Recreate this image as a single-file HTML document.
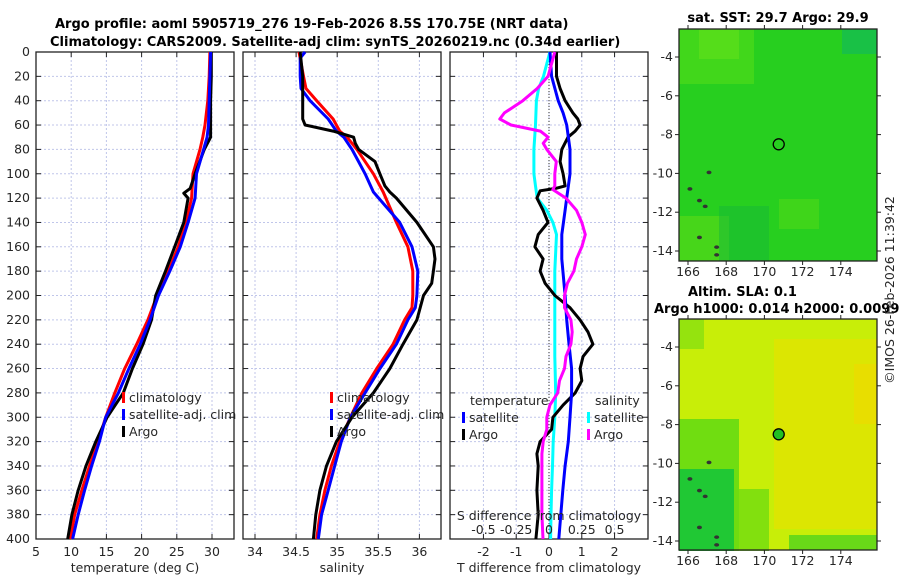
<!DOCTYPE html>
<html><head><meta charset="utf-8"><style>
body{margin:0;background:#fff;}
svg{display:block;font-family:"DejaVu Sans","Liberation Sans",sans-serif;}
.t{font-size:12.5px;fill:#262626;}
.b{font-size:13px;font-weight:bold;fill:#000;}
</style></head><body>
<svg id="fig" width="900" height="580" viewBox="0 0 900 580" xmlns="http://www.w3.org/2000/svg">
<text class="b" x="55" y="28">Argo profile: aoml 5905719_276 19-Feb-2026 8.5S 170.75E (NRT data)</text>
<text class="b" x="50" y="46">Climatology: CARS2009. Satellite-adj clim: synTS_20260219.nc (0.34d earlier)</text>
<g id="p1"></g>
<g id="p2"></g>
<g id="p3"></g>
<g id="m1"></g>
<g id="m2"></g>
<text class="b" x="778" y="22" text-anchor="middle">sat. SST: 29.7 Argo: 29.9</text>
<text class="b" x="688" y="296">Altim. SLA: 0.1</text>
<text class="b" x="654" y="313">Argo h1000: 0.014 h2000: 0.0099</text>
<text class="t" transform="translate(894,290) rotate(-90)" text-anchor="middle">©IMOS 26-Feb-2026 11:39:42</text>
</svg>
<script>
// ---- data ----
const depthTicks=[0,20,40,60,80,100,120,140,160,180,200,220,240,260,280,300,320,340,360,380,400];
const tempTicks=[5,10,15,20,25,30];
const salTicks=[34,34.5,35,35.5,36];
const salTickLabels=['34','34.5','35','35.5','36'];
const dTTicks=[-2,-1,0,1,2];
const dSTicks=[-0.5,-0.25,0,0.25,0.5];
const dSTickLabels=['-0.5','-0.25','0','0.25','0.5'];
const tDepth=[0,20,40,60,70,80,100,120,140,160,180,200,220,240,260,280,300,320,340,360,380,400];
const tClim=[29.7,29.6,29.4,29.0,28.7,28.3,27.3,27.1,26.3,25.2,23.8,22.2,20.9,19.3,17.6,16.2,14.9,13.8,12.6,11.5,10.5,9.9];
const tSat=[29.8,29.7,29.6,29.5,29.3,28.8,27.8,27.6,26.6,25.5,24.0,22.4,21.2,19.8,18.2,16.7,14.9,14.0,12.9,11.9,11.0,10.2];
const tArgoDepth=[0,20,40,60,70,80,100,112,116,120,140,160,180,200,220,240,260,280,300,320,340,360,380,400];
const tArgo=[29.9,29.9,29.8,29.8,29.8,28.9,27.6,26.9,26.0,26.6,26.0,24.7,23.4,22.0,21.4,20.2,18.7,17.4,15.1,13.5,12.1,11.0,10.1,9.5];
const sDepth=[0,20,30,40,55,65,70,80,90,100,115,140,160,180,200,210,220,240,260,280,300,320,340,360,380,400];
const sClim=[34.535,34.59,34.62,34.75,34.95,35.03,35.12,35.24,35.34,35.44,35.56,35.72,35.86,35.92,35.92,35.91,35.82,35.68,35.48,35.30,35.16,35.03,34.93,34.85,34.79,34.75];
const sSatDepth=[0,5,20,30,40,55,65,70,80,90,100,115,140,160,180,200,210,220,240,260,280,300,320,340,360,380,400];
const sSat=[34.61,34.55,34.55,34.56,34.67,34.89,34.99,35.08,35.18,35.26,35.34,35.44,35.76,35.91,35.98,35.97,35.95,35.86,35.72,35.52,35.34,35.16,35.05,34.97,34.89,34.81,34.77];
const sArgoDepth=[0,20,40,55,60,65,70,75,80,90,100,110,115,120,140,160,170,180,190,200,220,240,260,280,300,320,340,360,380,400];
const sArgo=[34.55,34.58,34.58,34.58,34.61,34.95,35.2,35.22,35.26,35.46,35.52,35.58,35.64,35.72,35.97,36.17,36.19,36.17,36.15,36.05,35.97,35.80,35.64,35.44,35.18,34.99,34.87,34.79,34.74,34.71];
const dTsatDepth=[0,20,30,40,50,60,80,100,120,130,150,170,200,220,240,260,280,300,320,340,360,380,400];
const dTsat=[0.03,0.08,0.18,0.28,0.43,0.54,0.64,0.64,0.54,0.49,0.39,0.39,0.49,0.54,0.61,0.69,0.69,0.64,0.59,0.49,0.42,0.36,0.30];
const dTargoDepth=[0,20,30,40,50,55,60,65,70,80,90,100,110,112,114,120,130,140,150,160,170,180,190,200,210,220,230,240,250,260,270,280,290,300,310,320,330,340,360,380,400];
const dTargo=[0.23,0.23,0.34,0.49,0.73,0.88,0.95,0.8,0.58,0.39,0.34,0.43,0.49,0.2,-0.27,-0.37,-0.18,-0.03,-0.33,-0.43,-0.18,-0.27,-0.12,0.18,0.64,0.95,1.19,1.34,1.04,0.95,1.0,0.8,0.43,0.12,0.08,-0.27,-0.37,-0.33,-0.37,-0.33,-0.4];
const dSsatDepth=[0,20,30,40,60,80,100,110,120,130,140,150,180,220,250,280,300,320,340,360,380,400];
const dSsat=[0.007,-0.042,-0.079,-0.096,-0.103,-0.115,-0.115,-0.103,-0.09,-0.017,0.03,0.057,0.044,0.044,0.044,0.051,0.044,0.032,0.027,0.02,0.015,0.012];
const dSargoDepth=[0,20,30,40,50,55,60,65,70,75,80,90,100,110,113,120,130,140,150,160,170,180,190,200,210,220,230,240,250,260,270,280,290,300,310,320,330,340,360,380,400];
const dSargo=[0.044,-0.007,-0.09,-0.2,-0.34,-0.375,-0.29,-0.066,-0.007,-0.044,-0.017,0.056,0.044,0.044,0.03,0.13,0.21,0.25,0.277,0.25,0.21,0.19,0.14,0.118,0.118,0.167,0.177,0.167,0.13,0.118,0.08,0.066,0.007,-0.017,-0.017,-0.044,-0.054,-0.054,-0.054,-0.054,-0.046];
const latTicks=[-4,-6,-8,-10,-12,-14];
const lonTicks=[166,168,170,172,174];
const argoLon=170.75, argoLat=-8.5;

const NS='http://www.w3.org/2000/svg';
function mk(parent,tag,attrs){const e=document.createElementNS(NS,tag);for(const k in attrs)e.setAttribute(k,attrs[k]);parent.appendChild(e);return e;}
const Y0=52,Y1=539;
const yD=d=>Y0+(Y1-Y0)*d/400;
const LW=3;

function panel(g,x0,x1,xmin,xmax){
  return v=>x0+(x1-x0)*(v-xmin)/(xmax-xmin);
}
function frame(g,x0,x1,xs,xt,xlabels,name){
  depthTicks.forEach(d=>{
    const l=mk(g,'line',{x1:x0,x2:x1,y1:yD(d),y2:yD(d),stroke:'#c0c6ea','stroke-width':1,'stroke-dasharray':'2,2'});
    
    
    mk(g,'line',{x1:x0,x2:x0+5,y1:yD(d),y2:yD(d),stroke:'#222'});
    mk(g,'line',{x1:x1-5,x2:x1,y1:yD(d),y2:yD(d),stroke:'#222'});
  });
  xt.forEach((v,i)=>{
    const l=mk(g,'line',{x1:xs(v),x2:xs(v),y1:Y0,y2:Y1,stroke:'#c0c6ea','stroke-width':1,'stroke-dasharray':'2,2'});
    
    
    mk(g,'line',{x1:xs(v),x2:xs(v),y1:Y1,y2:Y1-5,stroke:'#222'});
    mk(g,'line',{x1:xs(v),x2:xs(v),y1:Y0,y2:Y0+5,stroke:'#222'});
    if(xlabels){const t=mk(g,'text',{x:xs(v),y:556,'text-anchor':'middle',class:'t'});t.textContent=xlabels[i];
      
      }
  });
  const r=mk(g,'rect',{x:x0,y:Y0,width:x1-x0,height:Y1-Y0,fill:'none',stroke:'#222','stroke-width':1.3});
  
  
}
function line(g,xs,vals,deps,color,w,name){
  const p=vals.map((v,i)=>(i?'L':'M')+xs(v).toFixed(1)+','+yD(deps[i]).toFixed(1)).join('');
  const e=mk(g,'path',{d:p,fill:'none',stroke:color,'stroke-width':w,'stroke-linejoin':'round'});
  
  
}
function legend(g,x,y,items,name){
  items.forEach((it,i)=>{
    mk(g,'rect',{x:x,y:y+i*17-9,width:3,height:11,fill:it[1]});
    const t=mk(g,'text',{x:x+7,y:y+i*17+1,class:'t'});t.textContent=it[0];
    
    
  });
}
// panel 1
const g1=document.getElementById('p1');
const xT=panel(g1,36,234,5,5+198/7.04);
frame(g1,36,234,xT,tempTicks,tempTicks.map(String),'temperature');
depthTicks.forEach(d=>{const t=mk(g1,'text',{x:30,y:yD(d)+4,'text-anchor':'end',class:'t'});t.textContent=d;
  
  });
line(g1,xT,tClim,tDepth,'#ff0000',LW,'temp-climatology-line');
line(g1,xT,tArgo,tArgoDepth,'#000',LW,'temp-argo-line');
line(g1,xT,tSat,tDepth,'#0000ff',LW,'temp-satellite-line');
legend(g1,122,401,[['climatology','#f00'],['satellite-adj. clim','#00f'],['Argo','#000']],'temp-legend');
{const t=mk(g1,'text',{x:135,y:572,'text-anchor':'middle',class:'t'});t.textContent='temperature (deg C)';}
// panel 2
const g2=document.getElementById('p2');
const xS=panel(g2,243,441,34-12/82.2,34+186/82.2);
frame(g2,243,441,xS,salTicks,salTickLabels,'salinity');
line(g2,xS,sClim,sDepth,'#ff0000',LW,'sal-climatology-line');
line(g2,xS,sSat,sSatDepth,'#0000ff',LW,'sal-satellite-line');
line(g2,xS,sArgo,sArgoDepth,'#000',LW,'sal-argo-line');
legend(g2,330,401,[['climatology','#f00'],['satellite-adj. clim','#00f'],['Argo','#000']],'sal-legend');
{const t=mk(g2,'text',{x:342,y:572,'text-anchor':'middle',class:'t'});t.textContent='salinity';}
// panel 3
const g3=document.getElementById('p3');
const xDT=panel(g3,450,648,-3.02,3.02);
const xDS=v=>xDT(v*4);
frame(g3,450,648,xDT,dTTicks,dTTicks.map(String),'difference');
mk(g3,'line',{x1:xDT(0),x2:xDT(0),y1:Y0,y2:Y1,stroke:'#333','stroke-width':1,'stroke-dasharray':'1,2'});
line(g3,xDS,dSsat,dSsatDepth,'#00ffff',LW,'sal-diff-satellite-line');
line(g3,xDT,dTargo,dTargoDepth,'#000',LW,'temp-diff-argo-line');
line(g3,xDT,dTsat,dTsatDepth,'#0000ff',LW,'temp-diff-satellite-line');
line(g3,xDS,dSargo,dSargoDepth,'#ff00ff',LW,'sal-diff-argo-line');
{const t=mk(g3,'text',{x:470,y:405,class:'t'});t.textContent='temperature';}
{const t=mk(g3,'text',{x:595,y:405,class:'t'});t.textContent='salinity';}
legend(g3,462,421,[['satellite','#00f'],['Argo','#000']],'diff-temp-legend');
legend(g3,587,421,[['satellite','#0ff'],['Argo','#f0f']],'diff-sal-legend');
{const t=mk(g3,'text',{x:549,y:520,'text-anchor':'middle',class:'t'});t.textContent='S difference from climatology';}
dSTicks.forEach((v,i)=>{const t=mk(g3,'text',{x:xDS(v),y:534,'text-anchor':'middle',class:'t'});t.textContent=dSTickLabels[i];
  
  });
{const t=mk(g3,'text',{x:549,y:572,'text-anchor':'middle',class:'t'});t.textContent='T difference from climatology';}
// maps
function map(g,top,bot,kind,name){
  const x0=679,x1=877;
  const lx=v=>688+(v-166)*19.1;
  const ly=v=>top+28+(-4-v)*19.4;
  const fill=kind==1?'#27cf1f':'#c8ee08';
  const bg=mk(g,'rect',{x:x0,y:top,width:x1-x0,height:bot-top,fill:fill});
  
  
  if(kind==1){
    mk(g,'rect',{x:x0,y:top,width:75,height:55,fill:'#48d81a',opacity:0.8});
    mk(g,'rect',{x:x0+20,y:top,width:40,height:30,fill:'#5ee01a',opacity:0.7});
    mk(g,'rect',{x:x0,y:bot-45,width:50,height:45,fill:'#55d818',opacity:0.7});
    mk(g,'rect',{x:x0+40,y:bot-55,width:50,height:55,fill:'#16b838',opacity:0.5});
    mk(g,'rect',{x:x1-35,y:top,width:35,height:25,fill:'#10b860',opacity:0.6});
    mk(g,'rect',{x:x0+100,y:top+170,width:40,height:30,fill:'#50d818',opacity:0.6});
  } else {
    mk(g,'rect',{x:x0+95,y:top+20,width:103,height:190,fill:'#e4e200',opacity:0.7});
    mk(g,'rect',{x:x0+175,y:top+45,width:23,height:60,fill:'#f0d800',opacity:0.6});
    mk(g,'rect',{x:x0,y:top+100,width:60,height:132,fill:'#5ad814',opacity:0.8});
    mk(g,'rect',{x:x0,y:top+150,width:55,height:82,fill:'#20c834'});
    mk(g,'rect',{x:x0+55,y:top+170,width:35,height:62,fill:'#70dc10',opacity:0.8});
    mk(g,'rect',{x:x0,y:top,width:25,height:30,fill:'#88e010',opacity:0.8});
    mk(g,'rect',{x:x0+110,y:bot-15,width:88,height:15,fill:'#40d020',opacity:0.7});
  }
  [[166.1,-10.8],[166.6,-11.4],[166.9,-11.7],[166.6,-13.3],[167.5,-13.8],[167.5,-14.2],[167.1,-9.95]].forEach(p=>{
    mk(g,'ellipse',{cx:lx(p[0]),cy:ly(p[1]),rx:2.5,ry:1.8,fill:'#333'});
  });
  const c=mk(g,'circle',{cx:lx(argoLon),cy:ly(argoLat),r:5.5,fill:kind==1?'none':'#22c022',stroke:'#000','stroke-width':1.3});
  
  
  mk(g,'rect',{x:x0,y:top,width:x1-x0,height:bot-top,fill:'none',stroke:'#222','stroke-width':1.3});
  latTicks.forEach(v=>{
    mk(g,'line',{x1:x0-4,x2:x0,y1:ly(v),y2:ly(v),stroke:'#222'});
    mk(g,'line',{x1:x1,x2:x1+4,y1:ly(v),y2:ly(v),stroke:'#222'});
    const t=mk(g,'text',{x:x0-6,y:ly(v)+4,'text-anchor':'end',class:'t'});t.textContent=v;
    
    
  });
  lonTicks.forEach(v=>{
    mk(g,'line',{x1:lx(v),x2:lx(v),y1:bot,y2:bot+4,stroke:'#222'});
    mk(g,'line',{x1:lx(v),x2:lx(v),y1:top-4,y2:top,stroke:'#222'});
    const t=mk(g,'text',{x:lx(v),y:bot+15,'text-anchor':'middle',class:'t'});t.textContent=v;
    
    
  });
}
map(document.getElementById('m1'),29,261,1,'sst-map');
map(document.getElementById('m2'),319,550,2,'sla-map');
</script>
</body></html>
